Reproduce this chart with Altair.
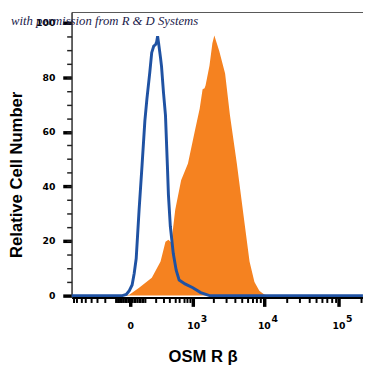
import altair as alt
import pandas as pd

# Isotype control (blue outline): fluorescence, relative cell number
ctrl_x = [-855, -46, -22, -5, 10, 22, 34, 53, 74, 96, 113, 139, 158, 179, 200, 212, 223,
          235, 260, 273, 300, 330, 360, 377, 410, 465, 524, 590, 739, 985, 1298, 1752, 211000]
ctrl_y = [0, 0, 0.4, 1.8, 3.9, 8.2, 13.6, 31.5, 47.7, 64, 72, 81.7, 89, 91.4, 92, 93, 95,
          92.5, 87, 84, 74.5, 66, 47.7, 37, 25.4, 15.4, 9.3, 5.7, 4.3, 2.9, 1.1, 0, 0]

# OSM R beta stained (orange filled)
osm_x = [-34, -5, 53, 159, 260, 330, 377, 428, 504, 637, 825, 1056, 1254, 1388, 1484, 1535,
         1752, 1932, 2062, 2200, 2423, 2933, 3434, 4274, 5310, 6389, 7451, 8677, 10103, 11412]
osm_y = [0, 0.3, 2.9, 6.5, 12.5, 19.7, 20.5, 19.5, 31.5, 42.3, 48.4, 60.2, 68.5, 75.6, 76, 77,
         84.2, 92.5, 95.3, 93, 89.6, 81.4, 66, 48.4, 29, 12.5, 5, 1.8, 0.4, 0]

x_major = [0, 1000, 10000, 100000]
x_major_text = ["0", "10", "10", "10"]
x_exp = [1000, 10000, 100000]
x_exp_text = ["3", "4", "5"]
x_minor = ([-800, -700, -600, -500, -400, -300, -200, -100,
            -80, -70, -60, -50, -40, -30, -20, -10, 10, 20, 30, 40, 50, 60, 70, 80,
            100, 200, 300, 400, 500, 600, 700, 800, 900,
            2000, 3000, 4000, 5000, 6000, 7000, 8000, 9000,
            20000, 30000, 40000, 50000, 60000, 70000, 80000, 90000, 200000])
y_major = [0, 20, 40, 60, 80, 100]
y_minor = list(range(5, 105, 5))
note = "with permission from R & D Systems"

ORANGE = "#f58220"
BLUE = "#1f52a3"
FONT = "DejaVu Sans"

xscale = alt.Scale(type="symlog", constant=170, domain=[-855, 211400], nice=False)
yscale = alt.Scale(domain=[-0.72, 103.9], nice=False, zero=False)

def lbl_expr(vals, texts):
    parts = " : ".join(f"datum.value == {v} ? '{t}'" for v, t in zip(vals, texts))
    return parts + " : ''"

osm_df = pd.DataFrame({"x": osm_x, "y": osm_y})
ctrl_df = pd.DataFrame({"x": ctrl_x, "y": ctrl_y})

orange = alt.Chart(osm_df).mark_area(color=ORANGE, clip=True).encode(
    x=alt.X("x:Q", scale=xscale, axis=alt.Axis(
        orient="bottom", values=x_major, labelExpr=lbl_expr(x_major, x_major_text),
        grid=False, tickSize=9, tickWidth=3.5, tickColor="black", domainColor="black",
        domainWidth=2, labelFont=FONT, labelFontWeight="bold", labelFontSize=9.5,
        labelColor="black", labelPadding=15, labelFlush=False, labelOverlap=False,
        title="OSM R β", titleFont="Liberation Sans", titleFontSize=17, titleFontWeight="bold",
        titleColor="black", titleX=134, titleY=52, titleBaseline="top", titleAlign="center")),
    y=alt.Y("y:Q", scale=yscale, axis=alt.Axis(
        orient="left", values=y_major, grid=False, tickSize=9, tickWidth=3.5,
        tickColor="black", domainColor="#333333", domainWidth=1.5, labelFont=FONT,
        labelFontWeight="bold", labelFontSize=9.5, labelColor="black", labelPadding=8,
        title="Relative Cell Number", titleFont="Liberation Sans", titleFontSize=17,
        titleFontWeight="bold", titleColor="black", titleX=-51, titleY=166,
        titleBaseline="alphabetic", titleAlign="center", titleAngle=270)),
)

blue = alt.Chart(ctrl_df).mark_line(color=BLUE, strokeWidth=3, clip=True).encode(
    x=alt.X("x:Q", scale=xscale, axis=alt.Axis(
        orient="bottom", values=x_minor, labels=False, domain=False, grid=False,
        tickSize=5, tickWidth=2, tickColor="black", title=None)),
    y=alt.Y("y:Q", scale=yscale, axis=alt.Axis(
        orient="left", values=y_minor, labels=False, domain=False, grid=False,
        tickSize=5, tickWidth=1.5, tickColor="#222222", title=None)),
)

exp_layer = alt.Chart(ctrl_df).mark_line(opacity=0).encode(
    x=alt.X("x:Q", scale=xscale, axis=alt.Axis(
        orient="bottom", values=x_exp, labelExpr=lbl_expr(x_exp, x_exp_text),
        ticks=False, domain=False, grid=False, labelFont=FONT, labelFontWeight="bold",
        labelFontSize=9.5, labelColor="black", labelPadding=16, labelOffset=10.5,
        labelFlush=False, labelOverlap=False, title=None)),
    y=alt.Y("y:Q", scale=yscale, axis=None),
)

top_layer = alt.Chart(ctrl_df).mark_line(opacity=0).encode(
    x=alt.X("x:Q", scale=xscale, axis=alt.Axis(
        orient="top", labels=False, ticks=False, grid=False, domainColor="#555555",
        domainWidth=1, title=None)),
    y=alt.Y("y:Q", scale=yscale, axis=None),
)

note_layer = alt.Chart(pd.DataFrame({"t": [note]})).mark_text(
    font="Liberation Serif", fontStyle="italic", fontSize=13, color="#1b1b4b",
    align="left", baseline="alphabetic").encode(
    x=alt.value(-62), y=alt.value(13), text="t:N")

chart = alt.layer(orange, blue, exp_layer, top_layer, note_layer).resolve_axis(
    x="independent", y="independent").properties(
    width=298, height=292, autosize=alt.AutoSizeParams(type="none"),
    padding={"left": 65, "top": 0, "right": 0, "bottom": 72}
).configure_view(stroke=None).configure(background="white")

chart.save("out.html", embed_options={"renderer": "svg", "actions": False})
